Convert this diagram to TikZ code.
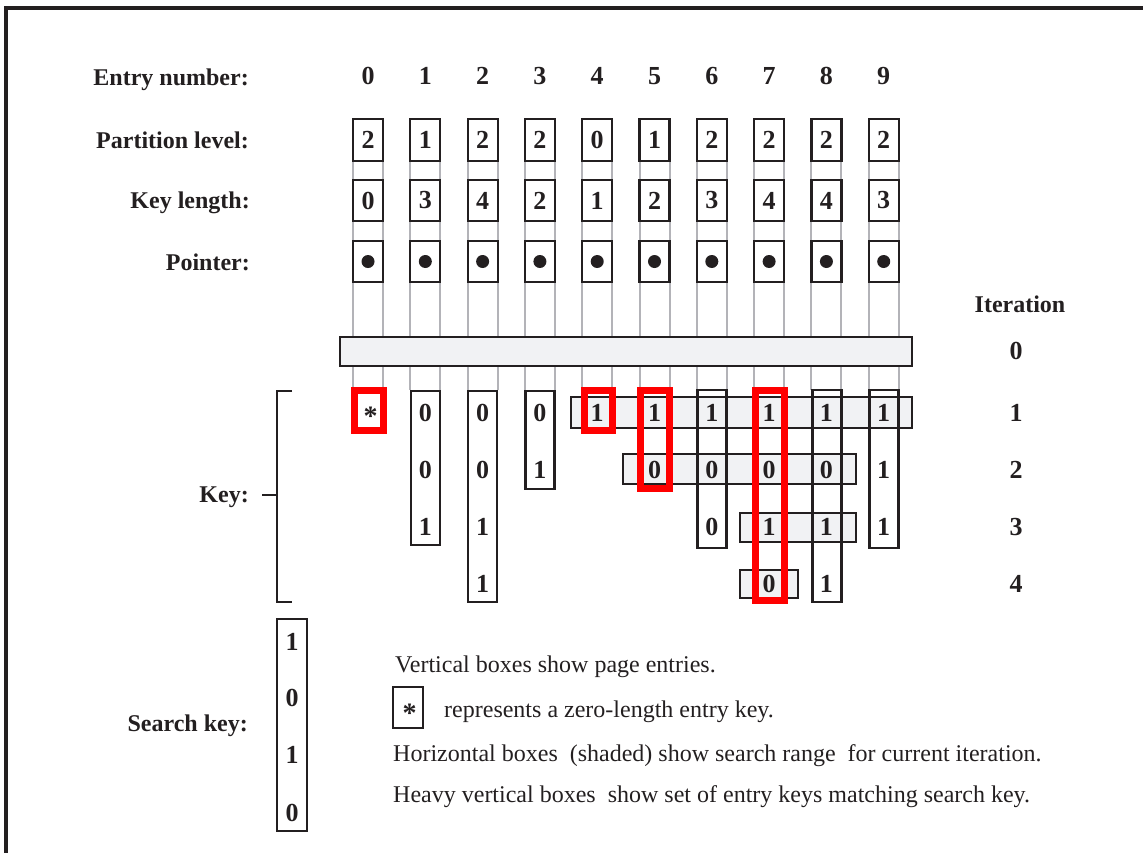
\documentclass[tikz,border=0pt]{standalone}
\usepackage{fontspec}
\setmainfont{Liberation Serif}
\usetikzlibrary{backgrounds}
\definecolor{ink}{HTML}{231F20}
\definecolor{shade}{HTML}{F1F2F4}
\definecolor{linegrey}{HTML}{B3B3B8}
\definecolor{heavyred}{HTML}{FF0000}
\begin{document}
\begin{tikzpicture}[x=1pt,y=-1pt,
  lbl/.style={font=\fontsize{24}{28}\selectfont\bfseries, anchor=base east, text=ink, inner sep=0pt},
  txt/.style={font=\fontsize{24}{28}\selectfont, anchor=base west, text=ink, inner sep=0pt},
  dig/.style={font=\fontsize{26}{30}\selectfont\bfseries, text=ink, inner sep=0pt},
  star/.style={font=\fontsize{28}{30}\selectfont\bfseries, text=ink, inner sep=0pt},
  cellbox/.style={draw=ink, line width=2.2pt, fill=white, minimum width=30pt, minimum height=41pt, inner sep=0pt, font=\fontsize{26}{30}\selectfont\bfseries, text=ink},
  dotn/.style={circle, fill=ink, minimum size=13pt, inner sep=0pt},
  gline/.style={draw=linegrey, line width=2pt},
  hbox/.style={draw=ink, fill=shade, line width=2.2pt, inner sep=0pt},
  vbox/.style={draw=ink, line width=2.2pt, inner sep=0pt, minimum width=29pt},
  redbox/.style={draw=heavyred, line width=7pt, inner sep=0pt},
  bline/.style={draw=ink, line width=2.2pt},
]
\useasboundingbox (0,0) rectangle (1143,852);
% frame
\draw[ink, line width=4.6pt] (6,880) -- (6,8) -- (1180,8);

% labels
\node[lbl] (lEntry) at (249,85) {Entry number:};
\node[lbl] (lPart) at (249,148) {Partition level:};
\node[lbl] (lKlen) at (250,208) {Key length:};
\node[lbl] (lPtr) at (250,270) {Pointer:};
\node[lbl] (lKey) at (249,502) {Key:};
\node[lbl] (lSearch) at (248,731) {Search key:};
\node[font=\fontsize{24}{28}\selectfont\bfseries, text=ink, inner sep=0pt, anchor=base] (lIter) at (1020,312) {Iteration};

% columns
\foreach \i/\p/\k in {0/2/0,1/1/3,2/2/4,3/2/2,4/0/1,5/1/2,6/2/3,7/2/4,8/2/4,9/2/3}{
  \pgfmathsetmacro\xx{368+57.3*\i}
  \node[dig] (en\i) at (\xx,76) {\i};
  \node[cellbox, minimum height=42pt] (pl\i) at (\xx,140) {\p};
  \node[cellbox] (kl\i) at (\xx,200.5) {\k};
  \node[cellbox] (pt\i) at (\xx,261.5) {};
  \node[dotn] (dot\i) at (pt\i.center) {};
  \coordinate (kt\i) at (\xx,390);
}
\begin{pgfonlayer}{background}
\foreach \i in {0,...,9}{
  \draw[gline] ([xshift=-15pt]pl\i.center) -- ([xshift=-15pt]kt\i);
  \draw[gline] ([xshift=15pt]pl\i.center) -- ([xshift=15pt]kt\i);
}
\end{pgfonlayer}

% horizontal (search range) boxes
\node[hbox, minimum width=572pt, minimum height=29pt] (hb0) at (626,351.5) {};
\node[hbox, minimum width=341pt, minimum height=31pt] (hb1) at (741.5,412.5) {};
\node[hbox, minimum width=233pt, minimum height=30pt] (hb2) at (739.5,469) {};
\node[hbox, minimum width=116pt, minimum height=29pt] (hb3) at (798,527.5) {};
\node[hbox, minimum width=58pt, minimum height=28pt] (hb4) at (769,584) {};

% vertical entry boxes
\node[vbox, minimum height=154pt] (kb1) at (425.5,468) {};
\node[vbox, minimum height=211pt] (kb2) at (482.5,496.5) {};
\node[vbox, minimum height=98pt] (kb3) at (540,440) {};
\node[vbox, minimum height=158pt] (kb6) at (712,469) {};
\node[vbox, minimum height=212pt] (kb8) at (827,496) {};
\node[vbox, minimum height=158pt] (kb9) at (884,469) {};

% heavy (matching) boxes
\node[redbox, minimum width=29pt, minimum height=40pt] (rb0) at (369,410.5) {};
\node[redbox, minimum width=28pt, minimum height=40pt] (rb4) at (598.5,410.5) {};
\node[redbox, minimum width=29pt, minimum height=98pt] (rb5) at (655,439.5) {};
\node[redbox, minimum width=29pt, minimum height=210pt] (rb7) at (770,495.5) {};

% key digits
\node[star] (k0r1) at (370.5,416.5) {*};
\foreach \i/\r/\d in {1/1/0,1/2/0,1/3/1,
                     2/1/0,2/2/0,2/3/1,2/4/1,
                     3/1/0,3/2/1,
                     4/1/1,
                     5/1/1,5/2/0,
                     6/1/1,6/2/0,6/3/0,
                     7/1/1,7/2/0,7/3/1,7/4/0,
                     8/1/1,8/2/0,8/3/1,8/4/1,
                     9/1/1,9/2/1,9/3/1}{
  \pgfmathsetmacro\xx{368+57.3*\i}
  \pgfmathsetmacro\yy{413+57*(\r-1)}
  \node[dig] (k\i r\r) at (\xx,\yy) {\d};
}

% iteration numbers
\foreach \n/\yy in {0/351,1/413,2/470,3/527,4/584}{
  \node[dig] (it\n) at (1016,\yy) {\n};
}

% key bracket
\coordinate (brT) at (292,391);
\coordinate (brB) at (292,602);
\coordinate (brM) at (277,495);
\coordinate (dashL) at (262,495);
\draw[bline] (brT) -- ++(-15,0) |- (brB);
\draw[bline] (dashL) -- (brM);

% search key
\node[vbox, minimum width=30pt, minimum height=212pt] (skbox) at (292,725) {};
\foreach \d/\yy [count=\c] in {1/642,0/698,1/755,0/813}{
  \node[dig] (sk\c) at (292,\yy) {\d};
}

% legend
\node[txt] (leg1) at (395,672) {Vertical boxes show page entries.};
\node[vbox, minimum width=30pt, minimum height=41pt] (legstar) at (408,707.5) {};
\node[star] (legstarc) at (409.5,713) {*};
\node[txt] (leg2) at (444,717) {represents a zero-length entry key.};
\node[txt] (leg3) at (393,761) {Horizontal boxes\ \ (shaded) show search range\ \ for current iteration.};
\node[txt] (leg4) at (393,802) {Heavy vertical boxes\ \ show set of entry keys matching search key.};
\end{tikzpicture}
\end{document}
